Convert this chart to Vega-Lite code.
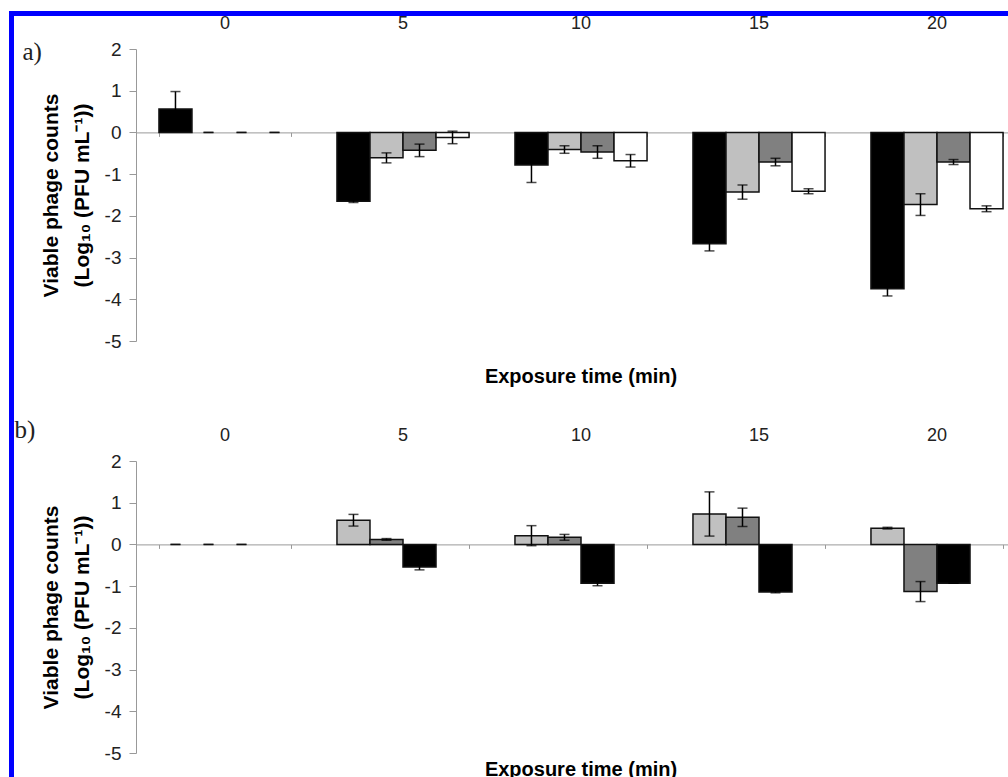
{
  "$schema": "https://vega.github.io/schema/vega-lite/v6.json",
  "background": "white",
  "padding": {"left": 8, "top": 10, "right": 0, "bottom": 0},
  "autosize": {"type": "pad"},
  "config": {
    "view": {"stroke": null},
    "font": "Liberation Sans",
    "axis": {"labelFont": "Liberation Sans", "titleFont": "Liberation Sans"}
  },
  "datasets": {
    "a": [
      {"t": 0, "s": "A1", "v": 0.56, "e": 0.42},
      {"t": 0, "s": "A2", "v": 0, "e": 0},
      {"t": 0, "s": "A3", "v": 0, "e": 0},
      {"t": 0, "s": "A4", "v": 0, "e": 0},
      {"t": 5, "s": "A1", "v": -1.65, "e": 0.03},
      {"t": 5, "s": "A2", "v": -0.61, "e": 0.12},
      {"t": 5, "s": "A3", "v": -0.43, "e": 0.15},
      {"t": 5, "s": "A4", "v": -0.12, "e": 0.15},
      {"t": 10, "s": "A1", "v": -0.78, "e": 0.42},
      {"t": 10, "s": "A2", "v": -0.41, "e": 0.09},
      {"t": 10, "s": "A3", "v": -0.47, "e": 0.15},
      {"t": 10, "s": "A4", "v": -0.68, "e": 0.15},
      {"t": 15, "s": "A1", "v": -2.67, "e": 0.17},
      {"t": 15, "s": "A2", "v": -1.43, "e": 0.17},
      {"t": 15, "s": "A3", "v": -0.71, "e": 0.09},
      {"t": 15, "s": "A4", "v": -1.41, "e": 0.06},
      {"t": 20, "s": "A1", "v": -3.75, "e": 0.17},
      {"t": 20, "s": "A2", "v": -1.73, "e": 0.26},
      {"t": 20, "s": "A3", "v": -0.71, "e": 0.06},
      {"t": 20, "s": "A4", "v": -1.83, "e": 0.07}
    ],
    "b": [
      {"t": 0, "s": "B1", "v": 0, "e": 0},
      {"t": 0, "s": "B2", "v": 0, "e": 0},
      {"t": 0, "s": "B3", "v": 0, "e": 0},
      {"t": 5, "s": "B1", "v": 0.58, "e": 0.14},
      {"t": 5, "s": "B2", "v": 0.12, "e": 0.02},
      {"t": 5, "s": "B3", "v": -0.54, "e": 0.07},
      {"t": 10, "s": "B1", "v": 0.21, "e": 0.24},
      {"t": 10, "s": "B2", "v": 0.17, "e": 0.07},
      {"t": 10, "s": "B3", "v": -0.93, "e": 0.06},
      {"t": 15, "s": "B1", "v": 0.73, "e": 0.53},
      {"t": 15, "s": "B2", "v": 0.65, "e": 0.22},
      {"t": 15, "s": "B3", "v": -1.14, "e": 0.02},
      {"t": 20, "s": "B1", "v": 0.39, "e": 0.02},
      {"t": 20, "s": "B2", "v": -1.13, "e": 0.24},
      {"t": 20, "s": "B3", "v": -0.93, "e": 0.0}
    ]
  },
  "bounds": "flush",
  "spacing": 0,
  "vconcat": [
    {
      "width": 1000, "height": 5,
      "view": {"fill": "#0000ff", "stroke": null},
      "data": {"values": [{}]},
      "mark": {"type": "point", "opacity": 0},
      "encoding": {}
    },
    {
      "bounds": "flush",
      "spacing": 122,
      "hconcat": [
        {
          "width": 5, "height": 762,
          "view": {"fill": "#0000ff", "stroke": null},
          "data": {"values": [{}]},
          "mark": {"type": "point", "opacity": 0},
          "encoding": {}
        },
        {
          "bounds": "flush",
          "spacing": 0,
          "vconcat": [
            {
              "width": 890, "height": 33,
              "data": {"values": [{}]},
              "mark": {"type": "point", "opacity": 0},
              "encoding": {}
            },
            {
              "bounds": "flush",
              "spacing": 120,
              "resolve": {"scale": {"color": "independent", "xOffset": "independent", "x": "independent", "y": "independent"}},
              "vconcat": [
                {
                  "width": 890, "height": 292,
                  "data": {"name": "a"},
                  "title": {"text": "Exposure time (min)", "orient": "bottom", "frame": "group", "anchor": "middle", "offset": 16, "fontSize": 20, "fontWeight": "bold", "color": "#000", "font": "Liberation Sans"},
                  "layer": [
                    {
                      "transform": [{"filter": "datum.v != 0"}],
                      "mark": {"type": "bar", "stroke": "#111", "strokeWidth": 1.5},
                      "encoding": {
                        "x": {"field": "t", "type": "ordinal", "scale": {"paddingInner": 0.258, "paddingOuter": 0.129},
                          "axis": {"orient": "top", "domain": false, "ticks": false, "tickSize": 0, "labelPadding": 17, "labelFontSize": 18, "labelColor": "#222", "labelAngle": 0,
                            "title": "a)", "titleX": -114, "titleY": 10, "titleAlign": "left", "titleBaseline": "alphabetic", "titleAngle": 0, "titleFont": "Liberation Serif", "titleFontSize": 25, "titleFontWeight": "normal", "titleColor": "#222"}},
                        "xOffset": {"field": "s", "scale": {"domain": ["A1", "A2", "A3", "A4"], "paddingInner": 0, "paddingOuter": 0}},
                        "y": {"field": "v", "type": "quantitative", "scale": {"domain": [-5, 2], "nice": false, "zero": false},
                          "axis": {"values": [-5, -4, -3, -2, -1, 0, 1, 2], "labelExpr": "'' + datum.value", "grid": false, "domainColor": "#999", "tickColor": "#999", "tickSize": 7, "labelFontSize": 19, "labelColor": "#222", "labelPadding": 8,
                            "title": ["Viable phage counts", "(Log₁₀ (PFU mL⁻¹))"], "titleFontSize": 21, "titleFontWeight": "bold", "titleColor": "#000", "titleLineHeight": 31, "titlePadding": 12}},
                        "color": {"field": "s", "scale": {"domain": ["A1", "A2", "A3", "A4"], "range": ["#000000", "#c0c0c0", "#808080", "#ffffff"]}, "legend": null}
                      }
                    },
                    {
                      "mark": {"type": "errorbar", "color": "#000", "ticks": {"size": 10, "thickness": 1.5, "color": "#000"}, "rule": {"strokeWidth": 1.5, "color": "#000"}},
                      "encoding": {
                        "x": {"field": "t", "type": "ordinal", "axis": {"orient": "bottom", "offset": -208.6, "labels": false, "title": null, "tickBand": "extent", "domainColor": "#999", "tickColor": "#999", "tickSize": 4, "grid": false}},
                        "xOffset": {"field": "s"},
                        "y": {"field": "v", "type": "quantitative",
                          "axis": {"values": [-5, -4, -3, -2, -1, 0, 1, 2], "labelExpr": "'' + datum.value", "grid": false, "domainColor": "#999", "tickColor": "#999", "tickSize": 7, "labelFontSize": 19, "labelColor": "#222", "labelPadding": 8,
                            "title": ["Viable phage counts", "(Log₁₀ (PFU mL⁻¹))"], "titleFontSize": 21, "titleFontWeight": "bold", "titleColor": "#000", "titleLineHeight": 31, "titlePadding": 12}},
                        "yError": {"field": "e"}
                      }
                    }
                  ]
                },
                {
                  "width": 890, "height": 292,
                  "data": {"name": "b"},
                  "title": {"text": "Exposure time (min)", "orient": "bottom", "frame": "group", "anchor": "middle", "offset": -3, "fontSize": 20, "fontWeight": "bold", "color": "#000", "font": "Liberation Sans"},
                  "layer": [
                    {
                      "transform": [{"filter": "datum.v != 0"}],
                      "mark": {"type": "bar", "stroke": "#111", "strokeWidth": 1.5},
                      "encoding": {
                        "x": {"field": "t", "type": "ordinal", "scale": {"paddingInner": 0.258, "paddingOuter": 0.129},
                          "axis": {"orient": "top", "domain": false, "ticks": false, "tickSize": 0, "labelPadding": 17, "labelFontSize": 18, "labelColor": "#222", "labelAngle": 0,
                            "title": "b)", "titleX": -122, "titleY": -24, "titleAlign": "left", "titleBaseline": "alphabetic", "titleAngle": 0, "titleFont": "Liberation Serif", "titleFontSize": 25, "titleFontWeight": "normal", "titleColor": "#222"}},
                        "xOffset": {"field": "s", "scale": {"domain": ["B1", "B2", "B3", "B4"], "paddingInner": 0, "paddingOuter": 0}},
                        "y": {"field": "v", "type": "quantitative", "scale": {"domain": [-5, 2], "nice": false, "zero": false},
                          "axis": {"values": [-5, -4, -3, -2, -1, 0, 1, 2], "labelExpr": "'' + datum.value", "grid": false, "domainColor": "#999", "tickColor": "#999", "tickSize": 7, "labelFontSize": 19, "labelColor": "#222", "labelPadding": 8,
                            "title": ["Viable phage counts", "(Log₁₀ (PFU mL⁻¹))"], "titleFontSize": 21, "titleFontWeight": "bold", "titleColor": "#000", "titleLineHeight": 31, "titlePadding": 12}},
                        "color": {"field": "s", "scale": {"domain": ["B1", "B2", "B3", "B4"], "range": ["#c0c0c0", "#808080", "#000000", "#ffffff"]}, "legend": null}
                      }
                    },
                    {
                      "mark": {"type": "errorbar", "color": "#000", "ticks": {"size": 10, "thickness": 1.5, "color": "#000"}, "rule": {"strokeWidth": 1.5, "color": "#000"}},
                      "encoding": {
                        "x": {"field": "t", "type": "ordinal", "axis": {"orient": "bottom", "offset": -208.6, "labels": false, "title": null, "tickBand": "extent", "domainColor": "#999", "tickColor": "#999", "tickSize": 4, "grid": false}},
                        "xOffset": {"field": "s"},
                        "y": {"field": "v", "type": "quantitative",
                          "axis": {"values": [-5, -4, -3, -2, -1, 0, 1, 2], "labelExpr": "'' + datum.value", "grid": false, "domainColor": "#999", "tickColor": "#999", "tickSize": 7, "labelFontSize": 19, "labelColor": "#222", "labelPadding": 8,
                            "title": ["Viable phage counts", "(Log₁₀ (PFU mL⁻¹))"], "titleFontSize": 21, "titleFontWeight": "bold", "titleColor": "#000", "titleLineHeight": 31, "titlePadding": 12}},
                        "yError": {"field": "e"}
                      }
                    }
                  ]
                }
              ]
            }
          ]
        }
      ]
    }
  ]
}
